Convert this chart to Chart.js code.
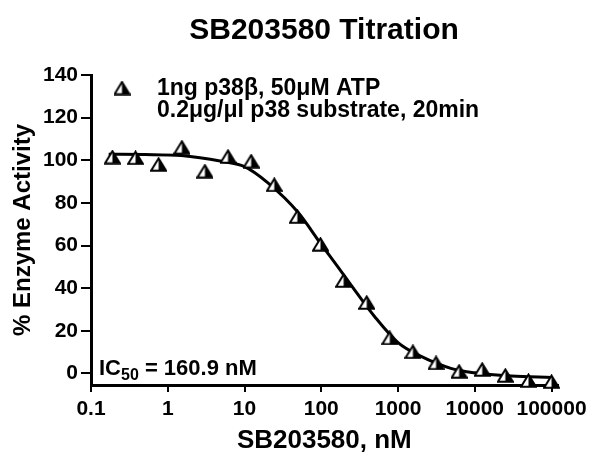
<!DOCTYPE html>
<html>
<head>
<meta charset="utf-8">
<script src="https://cdn.jsdelivr.net/npm/chart.js@4/dist/chart.umd.min.js"></script>
<style>
  html, body { margin: 0; padding: 0; background: #fff; }
  #wrap { width: 592px; height: 454px; }
</style>
</head>
<body>
<div id="wrap"><canvas id="myChart" width="592" height="454"></canvas></div>
<script>
// measured points, SB203580 concentration in nM
const concNM = [0.19, 0.38, 0.76, 1.53, 3.05, 6.1, 12.2, 24.4, 48.8, 97.7, 195.3, 390.6, 781, 1562, 3125, 6250, 12500, 25000, 50000, 100000]
const activity = [101.5, 101.2, 98.1, 106.1, 94.9, 101.8, 99.6, 88.5, 73.6, 60.6, 43.6, 33.3, 16.7, 10.2, 5.0, 1.0, 1.9, -0.9, -3.3, -3.8]

// fitted curve
const fitX = [0.17, 0.5, 1.5, 5, 10, 20, 50, 100, 160.9, 250, 500, 1000, 2000, 5000, 10000, 30000, 100000]
const fitY = [102.8, 102.7, 102.2, 99.5, 97, 89.5, 75.5, 60.5, 50.5, 41, 26.5, 14.5, 8, 2.3, 0.3, -1.2, -1.9]

const xTicks = [0.1, 1, 10, 100, 1000, 10000, 100000]
const yTicks = [0, 20, 40, 60, 80, 100, 120, 140]

const titleText = 'SB203580 Titration'
const legendLines = ['1ng p38\u03B2, 50\u03BCM ATP', '0.2\u03BCg/\u03BCl p38 substrate, 20min']
const xTitle = 'SB203580, nM'
const yTitle = '% Enzyme Activity'

const FONT = '"Liberation Sans", Arial, sans-serif'

// half filled triangle marker
function makeTriangle() {
    const c = document.createElement('canvas')
    c.width = 17
    c.height = 15
    const g = c.getContext('2d')
    g.lineWidth = 2
    g.beginPath()
    g.moveTo(8.5, 1.5); g.lineTo(16, 13.8); g.lineTo(1, 13.8); g.closePath()
    g.fillStyle = '#fff'
    g.fill()
    g.beginPath()
    g.moveTo(8.5, 1.5); g.lineTo(16, 13.8); g.lineTo(8.5, 13.8); g.closePath()
    g.fillStyle = '#000'
    g.fill()
    g.beginPath()
    g.moveTo(8.5, 1.5); g.lineTo(16, 13.8); g.lineTo(1, 13.8); g.closePath()
    g.strokeStyle = '#000'
    g.stroke()
    return c
}
const tri = makeTriangle()

const textPlugin = {
    id: 'texts',
    afterDraw(chart) {
        const ctx = chart.ctx
        ctx.save()
        ctx.fillStyle = '#000'
        ctx.textBaseline = 'middle'

        ctx.font = 'bold 30px ' + FONT
        ctx.textAlign = 'center'
        ctx.fillText(titleText, 324, 31)

        ctx.drawImage(tri, 122 - 8.5, 88 - 7.5)
        ctx.font = 'bold 23px ' + FONT
        ctx.textAlign = 'left'
        ctx.fillText(legendLines[0], 157, 89)
        ctx.fillText(legendLines[1], 157, 111)

        // IC50 label with subscript
        let x = 99
        ctx.font = 'bold 22px ' + FONT
        ctx.fillText('IC', x, 369)
        x += ctx.measureText('IC').width
        ctx.font = 'bold 16px ' + FONT
        ctx.fillText('50', x, 376)
        x += ctx.measureText('50').width
        ctx.font = 'bold 22px ' + FONT
        ctx.fillText(' = 160.9 nM', x, 369)
        ctx.restore()
    }
}

Chart.defaults.color = '#000'
Chart.defaults.font.family = FONT
Chart.defaults.font.weight = 'bold'

const ctx = document.getElementById('myChart')

new Chart(ctx, {
    type: 'scatter',
    data: {
        datasets: [
            {
                label: 'data',
                data: concNM.map((v, i) => ({ x: v, y: activity[i] })),
                pointStyle: tri,
                pointRadius: 8,
                showLine: false,
                clip: false,
                order: 0
            },
            {
                label: 'fit',
                data: fitX.map((v, i) => ({ x: v, y: fitY[i] })),
                showLine: true,
                borderColor: '#000',
                borderWidth: 3,
                pointRadius: 0,
                cubicInterpolationMode: 'monotone',
                fill: false,
                order: 1
            }
        ]
    },
    options: {
        responsive: false,
        animation: false,
        devicePixelRatio: 1,
        layout: { padding: { top: 75, right: 32, left: 0, bottom: 0 } },
        plugins: {
            legend: { display: false },
            tooltip: { enabled: false },
            title: { display: false }
        },
        scales: {
            x: {
                type: 'logarithmic',
                min: 0.1,
                max: 120000,
                afterBuildTicks: (scale) => { scale.ticks = xTicks.map(v => ({ value: v })) },
                afterFit: (scale) => { scale.height = 454 - 385 },
                ticks: {
                    font: { size: 21, weight: 'bold' },
                    padding: 5,
                    maxRotation: 0,
                    autoSkip: false,
                    callback: (v) => String(v)
                },
                grid: { drawOnChartArea: false, color: '#000', lineWidth: 2, tickLength: 7 },
                border: { display: true, color: '#000', width: 3 },
                title: { display: true, text: xTitle, font: { size: 26, weight: 'bold', lineHeight: 1 }, padding: { top: 0, bottom: 0 } }
            },
            y: {
                min: -5.4,
                max: 140,
                afterBuildTicks: (scale) => { scale.ticks = yTicks.map(v => ({ value: v })) },
                afterFit: (scale) => { scale.width = 91 },
                ticks: {
                    font: { size: 21, weight: 'bold' },
                    padding: 3
                },
                grid: { drawOnChartArea: false, color: '#000', lineWidth: 2, tickLength: 10 },
                border: { display: true, color: '#000', width: 3 },
                title: { display: true, text: yTitle, font: { size: 24, weight: 'bold' }, padding: { top: 9, bottom: 0 } }
            }
        }
    },
    plugins: [textPlugin]
})
</script>
</body>
</html>
